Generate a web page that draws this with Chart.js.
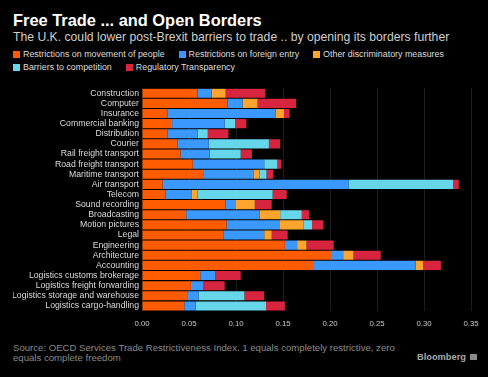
<!DOCTYPE html>
<html>
<head>
<meta charset="utf-8">
<script src="https://cdn.jsdelivr.net/npm/chart.js@4"></script>
<style>
  html, body { margin: 0; padding: 0; background: #000; }
  #wrap { position: relative; width: 488px; height: 377px; background: #000; overflow: hidden; font-family: "Liberation Sans", Arial, sans-serif; }
  #title { position: absolute; left: 13px; top: 11px; font-size: 16.4px; font-weight: bold; color: #fff; line-height: 19px; white-space: nowrap; }
  #subtitle { position: absolute; left: 13px; top: 30px; font-size: 12.2px; color: #cfcfcf; line-height: 14px; white-space: nowrap; }
  #legend { position: absolute; left: 13px; top: 48px; width: 470px; display: flex; flex-wrap: wrap; font-size: 8.9px; color: #ddd; line-height: 13px; }
  #legend .item { display: flex; align-items: center; margin-right: 14px; white-space: nowrap; }
  #legend .box { width: 7px; height: 7px; margin-right: 3px; }
  #chartBox { position: absolute; left: 0; top: 80px; width: 488px; height: 260px; }
  #source { position: absolute; left: 13px; top: 343px; font-size: 9.6px; color: #8a8a8a; line-height: 10px; width: 385px; }
  #brand { position: absolute; right: 22px; top: 352px; font-size: 9.3px; font-weight: bold; color: #a8a8a8; }
  #brandIcon { position: absolute; left: 470px; top: 354px; width: 7px; height: 6px; background: #8a8a8a; }
</style>
</head>
<body>
<div id="wrap">
  <div id="title">Free Trade ... and Open Borders</div>
  <div id="subtitle">The U.K. could lower post-Brexit barriers to trade .. by opening its borders further</div>
  <div id="legend"></div>
  <div id="chartBox"><canvas id="tradeChart"></canvas></div>
  <div id="source">Source: OECD Services Trade Restrictiveness Index. 1 equals completely restrictive, zero equals complete freedom</div>
  <div id="brand">Bloomberg</div>
  <div id="brandIcon"></div>
</div>
<script>
// Sectors, top to bottom
const sectors = ['Construction', 'Computer', 'Insurance', 'Commercial banking', 'Distribution', 'Courier',
  'Rail freight transport', 'Road freight transport', 'Maritime transport', 'Air transport', 'Telecom',
  'Sound recording', 'Broadcasting', 'Motion pictures', 'Legal', 'Engineering', 'Architecture', 'Accounting',
  'Logistics customs brokerage', 'Logistics freight forwarding', 'Logistics storage and warehouse', 'Logistics cargo-handling'];

// Index components
const movementOfPeople = [0.059, 0.091, 0.027, 0.032, 0.027, 0.038, 0.041, 0.054, 0.065, 0.022, 0.025,
  0.089, 0.047, 0.090, 0.087, 0.152, 0.201, 0.183, 0.062, 0.052, 0.048, 0.045];
const foreignEntry = [0.015, 0.016, 0.115, 0.056, 0.032, 0.033, 0.031, 0.076, 0.054, 0.198, 0.028,
  0.011, 0.078, 0.056, 0.043, 0.013, 0.013, 0.108, 0.016, 0.013, 0.012, 0.012];
const otherDiscriminatory = [0.015, 0.016, 0.009, 0, 0, 0, 0, 0, 0.006, 0, 0.006,
  0.020, 0.022, 0.026, 0.008, 0.010, 0.011, 0.008, 0, 0, 0, 0];
const barriersToCompetition = [0, 0, 0, 0.011, 0.011, 0.064, 0.033, 0.014, 0.0075, 0.111, 0.080,
  0, 0.023, 0.009, 0, 0, 0, 0, 0, 0, 0.049, 0.075];
const regulatoryTransparency = [0.042, 0.041, 0.006, 0.012, 0.022, 0.012, 0.012, 0.004, 0.007, 0.006, 0.015,
  0.018, 0.008, 0.012, 0.017, 0.029, 0.029, 0.019, 0.027, 0.023, 0.021, 0.020];

const seriesNames = ['Restrictions on movement of people', 'Restrictions on foreign entry',
  'Other discriminatory measures', 'Barriers to competition', 'Regulatory Transparency'];
const seriesColors = ['#ff5c00', '#3a98ff', '#ffa52d', '#66d6ea', '#d7253f'];
const seriesData = [movementOfPeople, foreignEntry, otherDiscriminatory, barriersToCompetition, regulatoryTransparency];

const xTicks = [0, 0.05, 0.10, 0.15, 0.20, 0.25, 0.30, 0.35];

// legend
const legendEl = document.getElementById('legend');
seriesNames.forEach(function(name, i) {
  const item = document.createElement('div');
  item.className = 'item';
  const box = document.createElement('span');
  box.className = 'box';
  box.style.background = seriesColors[i];
  const label = document.createElement('span');
  label.textContent = name;
  item.appendChild(box);
  item.appendChild(label);
  legendEl.appendChild(item);
});

const ctx = document.getElementById('tradeChart').getContext('2d');
new Chart(ctx, {
  type: 'bar',
  data: {
    labels: sectors,
    datasets: seriesNames.map(function(name, i) {
      return {
        label: name,
        data: seriesData[i],
        backgroundColor: seriesColors[i],
        borderWidth: 0,
        barPercentage: 0.9,
        categoryPercentage: 1.0
      };
    })
  },
  options: {
    indexAxis: 'y',
    responsive: true,
    maintainAspectRatio: false,
    animation: false,
    layout: { padding: { top: 7, left: 13, right: 17, bottom: 9 } },
    plugins: {
      legend: { display: false },
      title: { display: false },
      tooltip: { enabled: false }
    },
    scales: {
      x: {
        stacked: true,
        min: 0,
        max: 0.35,
        afterBuildTicks: function(scale) {
          scale.ticks = xTicks.map(function(v) { return { value: v }; });
        },
        afterFit: function(scale) { scale.height = 20; },
        ticks: {
          color: '#c8c8c8',
          font: { family: '"Liberation Sans", Arial, sans-serif', size: 7.8 },
          padding: 8,
          maxRotation: 0,
          callback: function(v) { return Number(v).toFixed(2); }
        },
        grid: { color: '#1e1e1e', drawTicks: false },
        border: { display: false }
      },
      y: {
        stacked: true,
        afterFit: function(scale) { scale.width = 129; },
        ticks: {
          color: '#dcdcdc',
          font: { family: '"Liberation Sans", Arial, sans-serif', size: 8.7 },
          padding: 3,
          autoSkip: false
        },
        grid: { display: false, drawTicks: false },
        border: { display: false }
      }
    }
  }
});
</script>
</body>
</html>
